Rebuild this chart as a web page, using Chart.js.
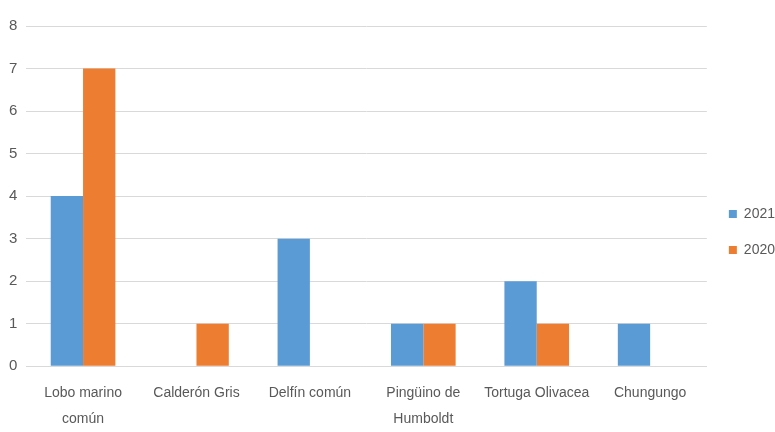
<!DOCTYPE html>
<html lang="es">
<head>
    <meta charset="UTF-8">
    <title>Especies</title>
    <script src="https://cdn.jsdelivr.net/npm/chart.js"></script>
<style>
    body {
        margin: 0;
        background-color: #ffffff;
    }
    #wrap {
        width: 775px;
        height: 432px;
    }
</style>
</head>
<body>
    <div id="wrap"><canvas id="speciesChart"></canvas></div>

    <script>
        // data
        const categories = [
            ['Lobo marino', 'común'],
            'Calderón Gris',
            'Delfín común',
            ['Pingüino de', 'Humboldt'],
            'Tortuga Olivacea',
            'Chungungo'
        ];
        const values2021 = [4, 0, 3, 1, 2, 1];
        const values2020 = [7, 1, 0, 1, 1, 0];
        const yTicks = [0, 1, 2, 3, 4, 5, 6, 7, 8];

        const fontFamily = "'Liberation Sans Narrow', 'Arial Narrow', 'Liberation Sans', sans-serif";
        const textColor = '#595959';

        const ctx = document.getElementById('speciesChart').getContext('2d');
        new Chart(ctx, {
            type: 'bar',
            data: {
                labels: categories,
                datasets: [{
                    label: '2021',
                    data: values2021,
                    backgroundColor: '#5b9bd5'
                }, {
                    label: '2020',
                    data: values2020,
                    backgroundColor: '#ed7d31'
                }]
            },
            options: {
                responsive: true,
                maintainAspectRatio: false,
                animation: false,
                layout: {
                    padding: { top: 26, right: -10, left: 0, bottom: -6 }
                },
                datasets: {
                    bar: {
                        barPercentage: 1,
                        categoryPercentage: 0.57
                    }
                },
                plugins: {
                    legend: {
                        position: 'right',
                        labels: {
                            boxWidth: 8,
                            boxHeight: 8,
                            padding: 22,
                            color: textColor,
                            font: { family: fontFamily, size: 14 }
                        }
                    },
                    tooltip: { enabled: false }
                },
                scales: {
                    x: {
                        grid: { display: false },
                        border: { color: '#d9d9d9', width: 1 },
                        ticks: {
                            color: textColor,
                            padding: 6,
                            autoSkip: false,
                            maxRotation: 0,
                            font: { family: fontFamily, size: 14, lineHeight: 1.85 }
                        }
                    },
                    y: {
                        min: 0,
                        max: 8,
                        afterBuildTicks: axis => {
                            axis.ticks = yTicks.map(v => ({ value: v }));
                        },
                        grid: { color: '#d9d9d9', drawTicks: false },
                        border: { display: false },
                        ticks: {
                            color: textColor,
                            padding: 9,
                            font: { family: fontFamily, size: 15 }
                        }
                    }
                }
            }
        });
    </script>
</body>
</html>
